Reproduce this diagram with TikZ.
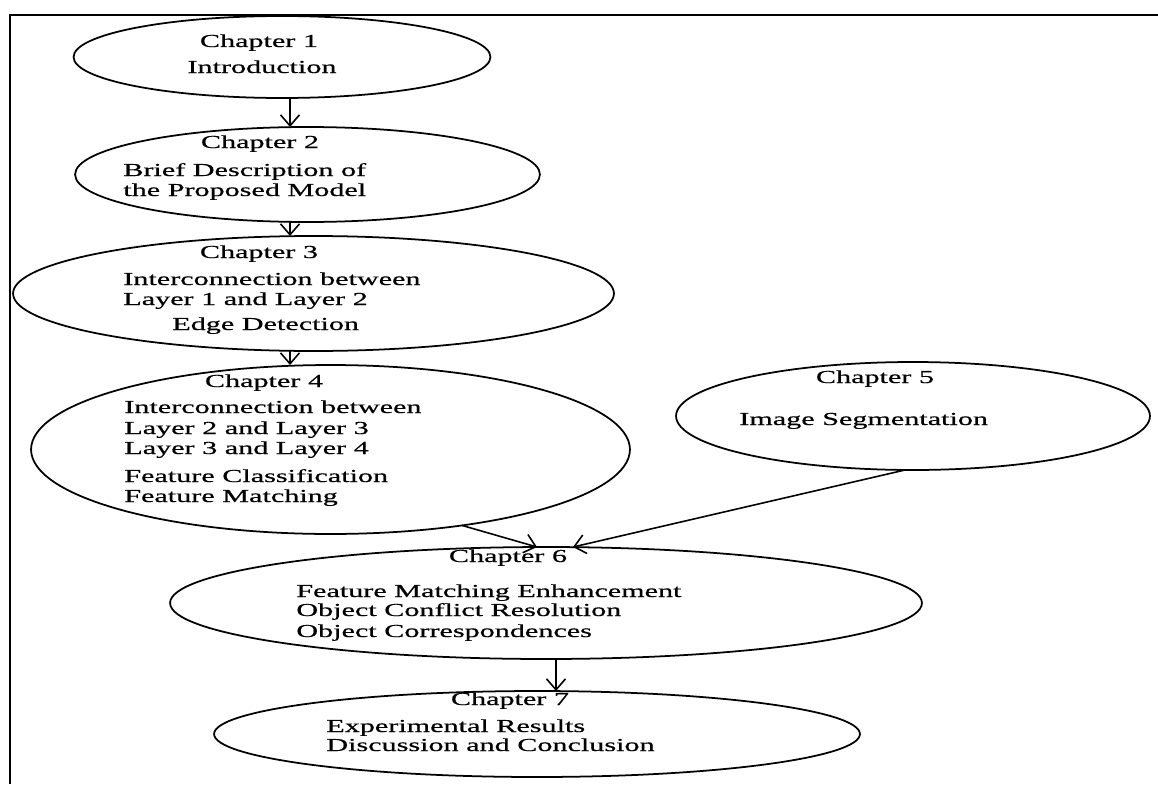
\documentclass[tikz,border=0pt]{standalone}
\usepackage{fontspec}
\setmainfont{Liberation Serif}[FakeStretch=1.65, FakeBold=0.6]
\usepackage{tikz}
\usetikzlibrary{arrows.meta,calc,shapes.geometric}
\tikzset{
  chapter/.style={draw=black, ellipse, line width=1pt, inner sep=0pt, outer sep=0pt},
  chaptitle/.style={anchor=base, inner sep=0pt, font=\fontsize{10.4}{12}\selectfont},
  chapline/.style={anchor=base west, inner sep=0pt, font=\fontsize{10.4}{12}\selectfont},
  flowarrow/.style={-{Straight Barb[length=2.2mm,width=3.8mm]}, line width=0.9pt, draw=black}
}

\begin{document}
\begin{tikzpicture}[x=0.02cm, y=-0.02cm]
        \useasboundingbox (0,0) rectangle (1158,784);
        \draw[line width=1.6pt] (10,784) -- (10,15) -- (1158,15);

        % chapter ellipses
        \node[chapter, minimum width=8.34cm, minimum height=1.64cm] (ch1) at (282,57) {};
        \node[chapter, minimum width=9.30cm, minimum height=1.90cm] (ch2) at (307.5,174.5) {};
        \node[chapter, minimum width=12.02cm, minimum height=2.30cm] (ch3) at (313.5,293.5) {};
        \node[chapter, minimum width=11.98cm, minimum height=3.38cm] (ch4) at (330.5,449.5) {};
        \node[chapter, minimum width=9.48cm, minimum height=2.16cm] (ch5) at (913,416) {};
        \node[chapter, minimum width=15.04cm, minimum height=2.24cm] (ch6) at (546,603) {};
        \node[chapter, minimum width=12.92cm, minimum height=1.72cm] (ch7) at (537,734) {};

        % texts
        \node[chaptitle] (t1a) at (259,47) {Chapter 1};
        \node[chaptitle] (t1b) at (262,73) {Introduction};

        \node[chaptitle] (t2a) at (260,148) {Chapter 2};
        \node[chapline] (t2b) at (123,176) {Brief Description of};
        \node[chapline] (t2c) at (123,196) {the Proposed Model};

        \node[chaptitle] (t3a) at (259,258) {Chapter 3};
        \node[chapline] (t3b) at (123,285) {Interconnection between};
        \node[chapline] (t3c) at (123,305) {Layer 1 and Layer 2};
        \node[chapline] (t3d) at (172,330) {Edge Detection};

        \node[chaptitle] (t4a) at (264,387) {Chapter 4};
        \node[chapline] (t4b) at (124,413) {Interconnection between};
        \node[chapline] (t4c) at (124,434) {Layer 2 and Layer 3};
        \node[chapline] (t4d) at (124,454) {Layer 3 and Layer 4};
        \node[chapline] (t4e) at (124,482) {Feature Classification};
        \node[chapline] (t4f) at (124,502) {Feature Matching};

        \node[chaptitle] (t5a) at (875,383) {Chapter 5};
        \node[chapline] (t5b) at (739,425) {Image Segmentation};

        \node[chaptitle] (t6a) at (508,562) {Chapter 6};
        \node[chapline] (t6b) at (296,597) {Feature Matching Enhancement};
        \node[chapline] (t6c) at (296,616) {Object Conflict Resolution};
        \node[chapline] (t6d) at (296,637) {Object Correspondences};

        \node[chaptitle] (t7a) at (510,705) {Chapter 7};
        \node[chapline] (t7b) at (326,732) {Experimental Results};
        \node[chapline] (t7c) at (326,751) {Discussion and Conclusion};

        % arrows
        \draw[flowarrow] ($(ch1.south)+(8,0)$) -- ($(ch2.north)+(-17.5,0)$);
        \draw[flowarrow] ($(ch2.south)+(-17.5,0)$) -- ($(ch3.north)+(-23.5,0)$);
        \draw[flowarrow] ($(ch3.south)+(-23.5,0)$) -- ($(ch4.north)+(-40.5,0)$);
        \draw[flowarrow] (ch4.-30) -- ($(ch6.north)+(-9,0)$);
        \draw[flowarrow] ($(ch5.south)+(-8,0)$) -- ($(ch6.north)+(27,0)$);
        \draw[flowarrow] ($(ch6.south)+(10,0)$) -- ($(ch7.north)+(19,0)$);
    \end{tikzpicture}
\end{document}
